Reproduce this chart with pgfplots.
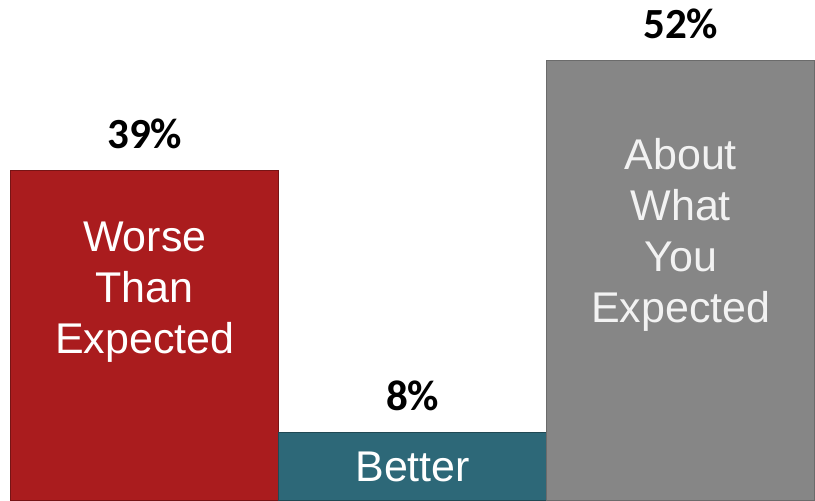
\documentclass[border=0pt]{standalone}
\usepackage{pgfplots}
\pgfplotsset{compat=1.18}
\usepackage{fontspec}
\setmainfont{Liberation Sans}
\newfontfamily\carlito{Carlito}
\definecolor{barred}{HTML}{AA1C1E}
\definecolor{barteal}{HTML}{2D6878}
\definecolor{bargray}{HTML}{868686}
\begin{document}
\begin{tikzpicture}
\begin{axis}[
  scale only axis, width=815pt, height=500pt,
  hide axis,
  xmin=-0.54, xmax=2.5,
  ymin=0, ymax=59.1,
  ybar, bar width=1, bar shift=0pt,
  clip=false,
  /pgf/number format/assume math mode=true,
  nodes near coords={\pgfmathprintnumber{\pgfplotspointmeta}\%},
  every node near coord/.append style={font=\carlito\bfseries\fontsize{43}{50}\selectfont, text=black, yshift=18pt},
]
\path (rel axis cs:0,0) rectangle (rel axis cs:1,1);
\addplot[fill=barred, draw=barred!70!black, line width=0.6pt] coordinates {(0,39)};
\addplot[fill=barteal, draw=barteal!70!black, line width=0.6pt] coordinates {(1,8)};
\addplot[fill=bargray, draw=bargray!80!black, line width=0.6pt] coordinates {(2,52)};
\node[align=center, text=white, font=\fontsize{43}{51}\selectfont] at (axis cs:0,24.6) {Worse\\Than\\Expected};
\node[align=center, text=white, font=\fontsize{43}{51}\selectfont] at (axis cs:1,3.9) {Better};
\node[align=center, text=white!95!black, font=\fontsize{43}{51}\selectfont] at (axis cs:2,31.3) {About\\What\\You\\Expected};
\end{axis}
\end{tikzpicture}
\end{document}
